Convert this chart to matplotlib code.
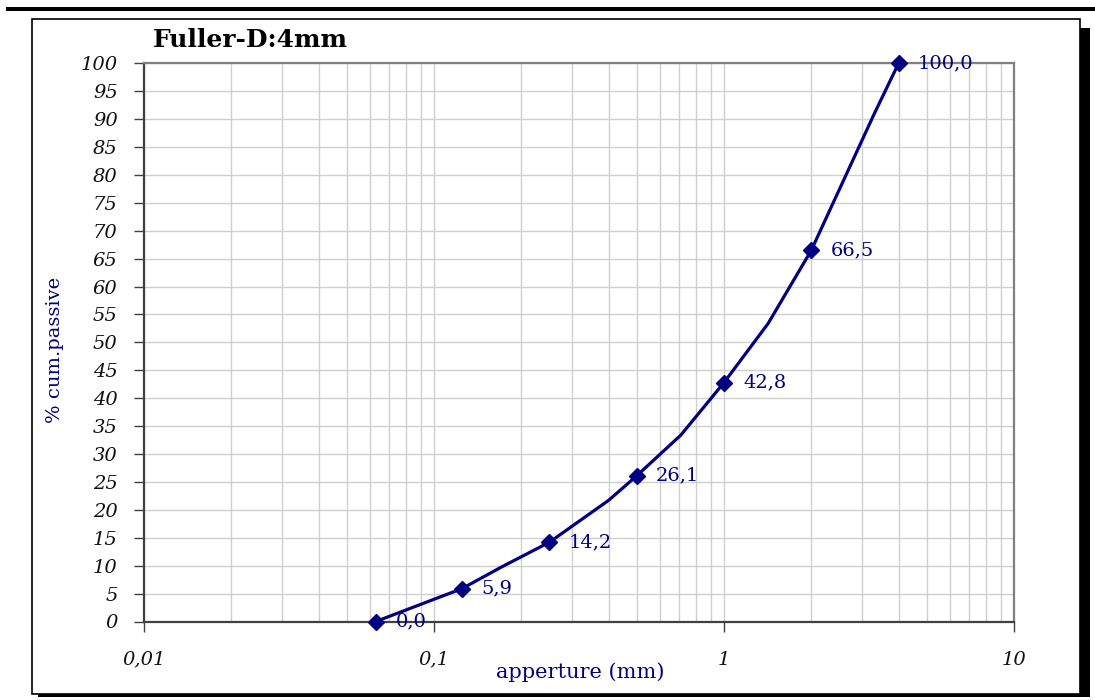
import matplotlib
matplotlib.use("Agg")
import matplotlib.pyplot as plt
from matplotlib.ticker import FixedLocator, LogLocator, NullFormatter, FixedFormatter
from matplotlib.patches import Rectangle

# Sieve points with markers
sieve_mm = [0.063, 0.125, 0.25, 0.5, 1, 2, 4]
passing = [0.0, 5.9, 14.2, 26.1, 42.8, 66.5, 100.0]

# Curve vertices (including intermediate, unmarked points)
curve_mm = [0.063, 0.125, 0.17, 0.25, 0.4, 0.5, 0.71, 1, 1.42, 2, 3.3, 4]
curve_pass = [0.0, 5.9, 9.7, 14.2, 21.7, 26.1, 33.4, 42.8, 53.4, 66.5, 91.0, 100.0]

x_ticks = [0.01, 0.1, 1, 10]
x_tick_labels = ["0,01", "0,1", "1", "10"]
y_ticks = list(range(0, 101, 5))

title = "Fuller-D:4mm"
xlabel = "apperture (mm)"
ylabel = "% cum.passive"

NAVY = "#000080"
SERIF = "DejaVu Serif"

fig = plt.figure(figsize=(10.95, 7.0), dpi=100)

# Frame decorations (top bar, box, shadow)
def frame_rect(x0, y0, x1, y1, **kw):
    fig.add_artist(Rectangle((x0/1095, 1-y1/700), (x1-x0)/1095, (y1-y0)/700,
                             transform=fig.transFigure, zorder=-10, **kw))

frame_rect(6, 7, 1095, 11, facecolor="black", edgecolor="none")
frame_rect(1080, 28, 1090, 697, facecolor="black", edgecolor="none")
frame_rect(38, 692, 1090, 697, facecolor="black", edgecolor="none")
frame_rect(32, 19, 1080, 694, facecolor="white", edgecolor="black", linewidth=1.2)

ax = fig.add_axes([144/1095, 1-621.5/700, (1014-144)/1095, (621.5-63.3)/700])
ax.set_zorder(5)
ax.patch.set_visible(False)
ax.set_xscale("log")
ax.set_xlim(0.01, 10)
ax.set_ylim(0, 100)

ax.xaxis.set_major_locator(FixedLocator(x_ticks))
ax.xaxis.set_major_formatter(FixedFormatter(x_tick_labels))
ax.xaxis.set_minor_locator(LogLocator(base=10, subs=range(2, 10)))
ax.xaxis.set_minor_formatter(NullFormatter())
ax.yaxis.set_major_locator(FixedLocator(y_ticks))

ax.grid(True, which="both", axis="x", color="#cfcfcf", linewidth=1.0)
ax.grid(True, which="major", axis="y", color="#cfcfcf", linewidth=1.0)
ax.set_axisbelow(True)

ax.tick_params(axis="x", which="major", direction="out", length=7, width=1, color="#404040", pad=14)
ax.tick_params(axis="x", which="minor", length=0)
ax.tick_params(axis="y", which="major", direction="out", length=7, width=1, color="#404040", pad=12)
for lab in ax.get_xticklabels() + ax.get_yticklabels():
    lab.set_fontfamily(SERIF)
    lab.set_fontstyle("italic")
    lab.set_fontsize(14)
    lab.set_color("#111111")

ax.spines["left"].set_color("#404040")
ax.spines["bottom"].set_color("#404040")
ax.spines["left"].set_linewidth(1.6)
ax.spines["bottom"].set_linewidth(1.6)
ax.spines["top"].set_color("#808080")
ax.spines["right"].set_color("#808080")
ax.spines["top"].set_linewidth(1.6)
ax.spines["right"].set_linewidth(1.6)

ax.plot(curve_mm, curve_pass, color=NAVY, linewidth=2.3, solid_joinstyle="round", zorder=3, clip_on=False)
ax.plot(sieve_mm, passing, linestyle="none", marker="D", markersize=8.5, color=NAVY, zorder=4, clip_on=False)

for xv, yv in zip(sieve_mm, passing):
    ax.annotate(f"{yv:.1f}".replace(".", ","), (xv, yv), xytext=(14, 0), textcoords="offset points",
                ha="left", va="center", fontsize=14, color=NAVY, family=SERIF, zorder=5,
                annotation_clip=False)

ax.set_xlabel(xlabel, fontsize=15, color=NAVY, family=SERIF)
ax.xaxis.set_label_coords(0.502, -0.074)
ax.set_ylabel(ylabel, fontsize=14, color=NAVY, family=SERIF)
ax.yaxis.set_label_coords(-0.092, 0.486)

fig.text(153/1095, 1-40/700, title, ha="left", va="center", fontsize=18, fontweight="bold",
         family=SERIF, color="black")

fig.savefig("out.png", dpi=100)
